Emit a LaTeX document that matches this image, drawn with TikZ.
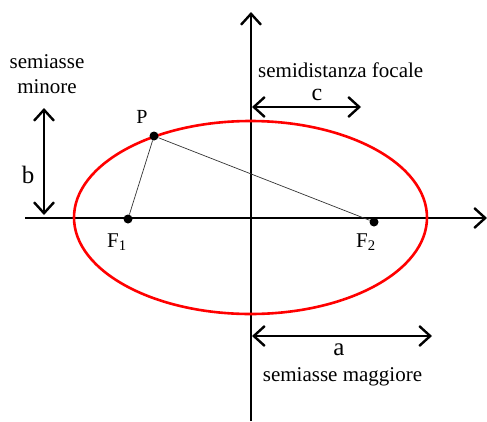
\documentclass[tikz,border=0pt]{standalone}
\usepackage{fontspec}
\setmainfont{Liberation Serif}
\usetikzlibrary{arrows.meta}
\begin{document}
\begin{tikzpicture}[x=1pt,y=-1pt,
  axis/.style={line width=2.6pt,-{Straight Barb[length=11pt,width=20pt,line width=2.4pt]}},
  dim/.style={line width=2.6pt,{Straight Barb[length=11pt,width=20pt,line width=2.4pt]}-{Straight Barb[length=11pt,width=20pt,line width=2.4pt]}},
  seg/.style={line width=0.7pt,draw=black!80},
  pt/.style={circle,fill=black,inner sep=0pt,minimum size=9pt},
  lbl/.style={inner sep=0pt,anchor=base,font=\fontsize{21}{25}\selectfont},
  big/.style={inner sep=0pt,anchor=base,font=\fontsize{25}{28}\selectfont}]
\useasboundingbox (0,0) rectangle (487,421);
\coordinate (xs) at (25,218);
\coordinate (xe) at (487,218);
\coordinate (ys) at (251,421);
\coordinate (ye) at (251,12);
\draw[axis] (xs) -- (xe);
\draw[axis] (ys) -- (ye);
\draw[red,line width=2.6pt] (250.5,217.5) ellipse [x radius=176.5, y radius=96.5];
\node[pt] (P) at (154,136) {};
\node[pt] (F1) at (128,219) {};
\node[pt] (F2) at (374,222) {};
\draw[seg] (P) -- (F1);
\draw[seg] (P) -- (F2);
\node[lbl,font=\fontsize{20}{24}\selectfont] (Pl) at (142,123) {P};
\node[lbl] (F1l) at (117,247) {F\textsubscript{1}};
\node[lbl] (F2l) at (366,247) {F\textsubscript{2}};
% b
\coordinate (b1) at (44,108);
\coordinate (b2) at (44,215);
\draw[dim] (b1) -- (b2);
\node[big] (bl) at (28,183) {b};
\node[lbl] (sm1) at (47,68) {semiasse};
\node[lbl] (sm2) at (47,93) {minore};
% c
\coordinate (c1) at (252,107);
\coordinate (c2) at (361,107);
\draw[dim] (c1) -- (c2);
\node[big,font=\fontsize{24}{28}\selectfont] (cl) at (317,100) {c};
\node[lbl,anchor=base west] (sf) at (258,77) {semidistanza focale};
% a
\coordinate (a1) at (252,336);
\coordinate (a2) at (432,336);
\draw[dim] (a1) -- (a2);
\node[big] (al) at (339,355) {a};
\node[lbl] (sM) at (342.5,381) {semiasse maggiore};
\end{tikzpicture}
\end{document}
